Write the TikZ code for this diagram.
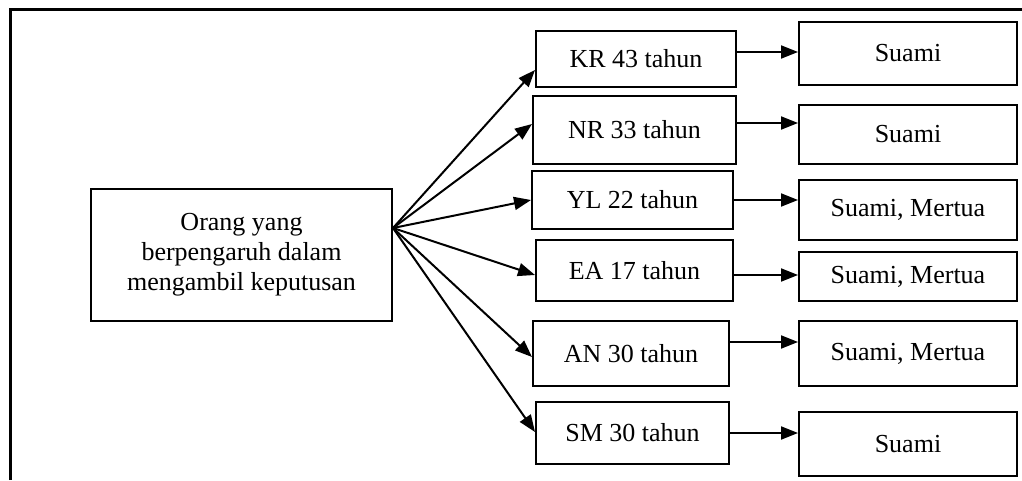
\documentclass[tikz,border=0pt]{standalone}
\usepackage{fontspec}
\setmainfont{Liberation Serif}
\usepackage{tikz}
\usetikzlibrary{arrows.meta,shapes}

\begin{document}
\begin{tikzpicture}[x=1pt,y=-1pt,>={Triangle[length=17pt,width=13pt]},
  box/.style={draw,rectangle,inner sep=0pt,line width=2pt,
    font=\fontsize{26}{30}\selectfont,align=center},
  link/.style={->,line width=2pt}]
\useasboundingbox (0,0) rectangle (1022,480);
\draw[line width=3pt](10,480)--(10,9)--(1022,9);
\node[box,minimum width=301pt,minimum height=132pt](main) at (241.5,255)
  {Orang yang\\berpengaruh dalam\\mengambil keputusan};
\coordinate (hub) at ([yshift=27pt]main.east);
% umur tiap orang
\node[box,minimum width=200pt,minimum height=56pt](kr) at (636,59) {KR 43 tahun};
\node[box,minimum width=203pt,minimum height=68pt](nr) at (634.5,130) {NR 33 tahun};
\node[box,minimum width=201pt,minimum height=58pt](yl) at (632.5,200) {YL 22 tahun};
\node[box,minimum width=197pt,minimum height=61pt](ea) at (634.5,270.5) {EA 17 tahun};
\node[box,minimum width=196pt,minimum height=65pt](an) at (631,353.5) {AN 30 tahun};
\node[box,minimum width=193pt,minimum height=62pt](sm) at (632.5,433) {SM 30 tahun};
% yang berpengaruh
\node[box,minimum width=218pt,minimum height=63pt](pkr) at (908,53.5) {Suami};
\node[box,minimum width=218pt,minimum height=59pt](pnr) at (908,134.5) {Suami};
\node[box,minimum width=218pt,minimum height=60pt](pyl) at (908,210) {Suami, Mertua};
\node[box,minimum width=218pt,minimum height=49pt](pea) at (908,276.5) {Suami, Mertua};
\node[box,minimum width=218pt,minimum height=65pt](pan) at (908,353.5) {Suami, Mertua};
\node[box,minimum width=218pt,minimum height=64pt](psm) at (908,444) {Suami};
\foreach \n/\dy in {kr/-11,nr/6,yl/0,ea/-4.5,an/-3.5,sm/1}
  \draw[link](hub)--([yshift=\dy pt]\n.west);
\foreach \n/\y in {kr/52,nr/123,yl/200,ea/275,an/342,sm/433}
  \draw[link](\n.east |- 0,\y)--(p\n.west |- 0,\y);
\end{tikzpicture}
\end{document}
